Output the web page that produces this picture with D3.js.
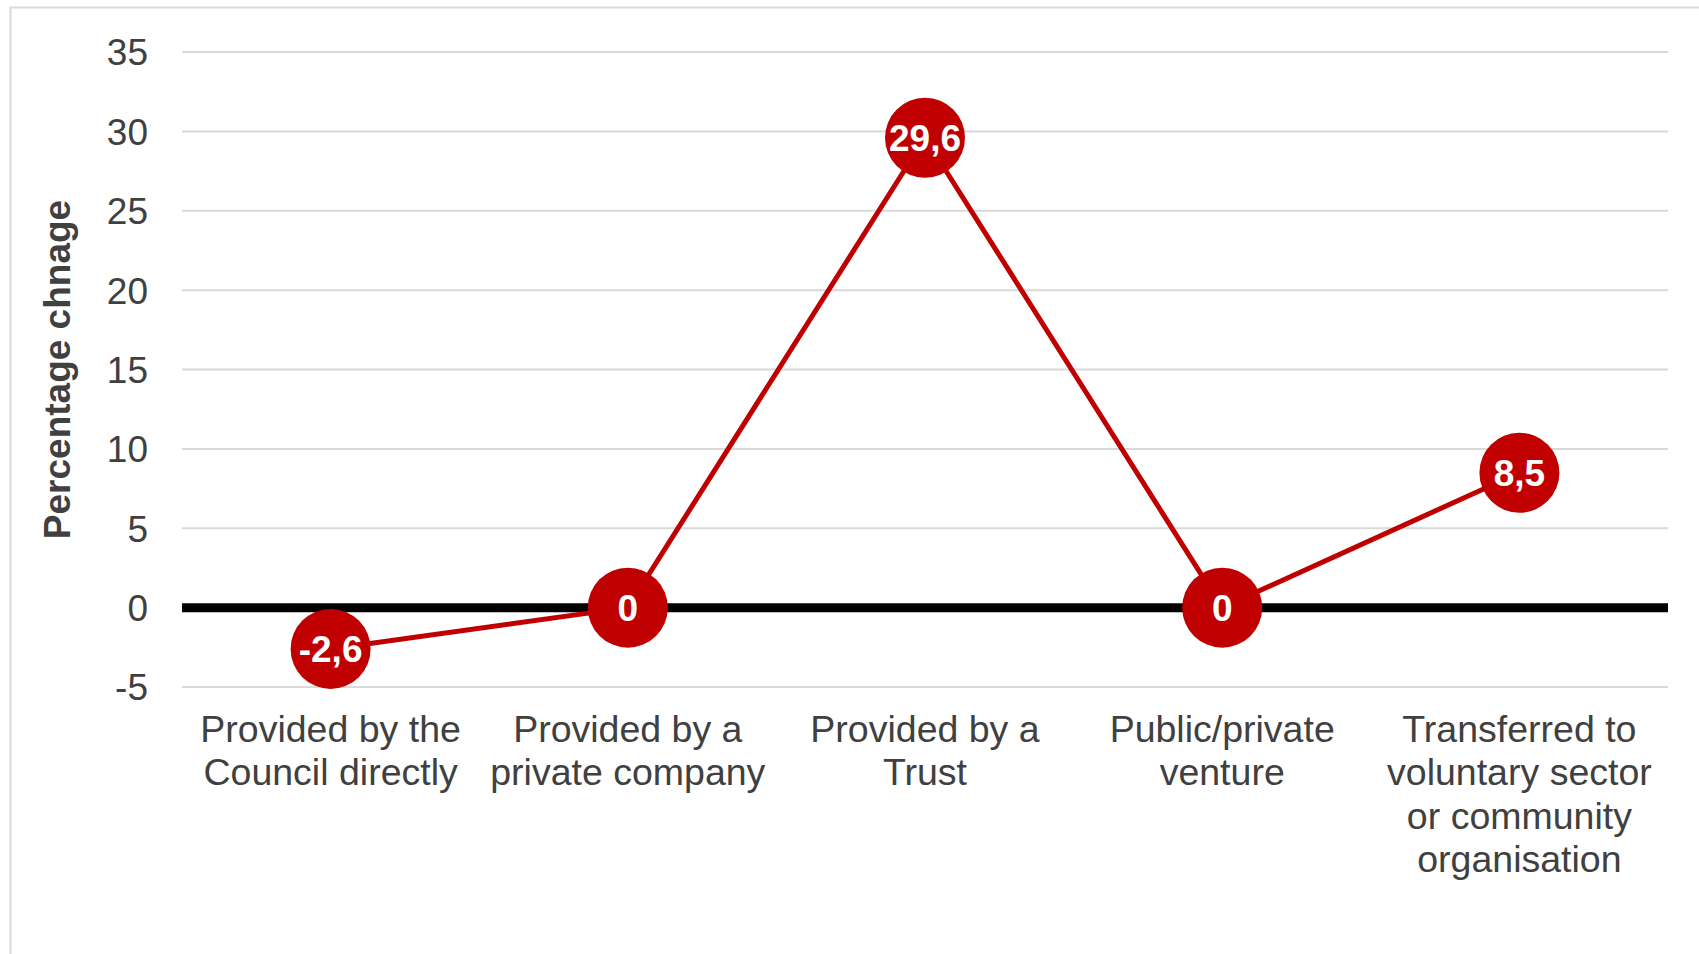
<!DOCTYPE html>
<html>
<head>
<meta charset="utf-8">
<script src="https://cdn.jsdelivr.net/npm/d3@7"></script>
<style>
  html, body { margin: 0; padding: 0; background: #fff; }
  svg { display: block; font-family: Arial, "Liberation Sans", sans-serif; }
</style>
</head>
<body>
<div id="chart"></div>
<script>
// chart data
var categories = [
    ["Provided by the", "Council directly"],
    ["Provided by a", "private company"],
    ["Provided by a", "Trust"],
    ["Public/private", "venture"],
    ["Transferred to", "voluntary sector", "or community", "organisation"]
];
var values = [-2.6, 0, 29.6, 0, 8.5];
var valueLabels = ["-2,6", "0", "29,6", "0", "8,5"];
var yTicks = [-5, 0, 5, 10, 15, 20, 25, 30, 35];
var yTitle = "Percentage chnage";

var width = 1699;
var height = 954;

var margin = {
    top: 52,
    bottom: 267,
    left: 182,
    right: 31
};

var red = "#c00000";
var textColour = "#404040";
var gridColour = "#d9d9d9";

var svg = d3.select("#chart")
    .append("svg")
    .attr("width", width)
    .attr("height", height);

// outer chart border (only top and left edges visible in frame)
svg.append("rect")
    .attr("x", 10.5)
    .attr("y", 7.5)
    .attr("width", width + 40)
    .attr("height", height + 40)
    .attr("fill", "none")
    .attr("stroke", gridColour)
    .attr("stroke-width", 2);

var innerW = width - margin.left - margin.right;
var innerH = height - margin.top - margin.bottom;

var g = svg.append("g")
    .attr("transform", "translate(" + margin.left + "," + margin.top + ")");

var x = d3.scaleBand()
    .domain(d3.range(categories.length))
    .range([0, innerW]);

var y = d3.scaleLinear()
    .domain([-5, 35])
    .range([innerH, 0]);

// gridlines
g.append("g")
    .attr("class", "grid")
    .selectAll("line")
    .data(yTicks.filter(function(d) { return d !== 0; }))
    .enter()
    .append("line")
    .attr("x1", 0)
    .attr("x2", innerW)
    .attr("y1", function(d) { return y(d); })
    .attr("y2", function(d) { return y(d); })
    .attr("stroke", gridColour)
    .attr("stroke-width", 2);

// y tick labels (plain hyphen for negatives)
var yAxis = d3.axisLeft(y)
    .tickValues(yTicks)
    .tickFormat(function(d) { return String(d); })
    .tickSize(0)
    .tickPadding(34);

g.append("g")
    .attr("class", "y-axis")
    .call(yAxis)
    .call(function(sel) {
        sel.select(".domain").remove();
        sel.selectAll("text")
            .attr("font-size", "37px")
            .attr("font-family", "Arial, 'Liberation Sans', sans-serif")
            .attr("fill", textColour)
            .attr("dy", "0.35em");
    });

// zero line
g.append("line")
    .attr("x1", 0)
    .attr("x2", innerW)
    .attr("y1", y(0))
    .attr("y2", y(0))
    .attr("stroke", "#000")
    .attr("stroke-width", 9);

// y title
svg.append("text")
    .attr("transform", "translate(" + 70 + "," + (margin.top + innerH / 2) + ") rotate(-90)")
    .attr("text-anchor", "middle")
    .attr("font-size", "37px")
    .attr("font-weight", "bold")
    .attr("fill", textColour)
    .text(yTitle);

// category labels
var catText = g.append("g")
    .attr("class", "x-labels")
    .selectAll("text")
    .data(categories)
    .enter()
    .append("text")
    .attr("text-anchor", "middle")
    .attr("font-size", "37.5px")
    .attr("fill", textColour)
    .attr("transform", function(d, i) {
        return "translate(" + (x(i) + x.bandwidth() / 2) + "," + (innerH + 55) + ")";
    });

catText.selectAll("tspan")
    .data(function(d) { return d; })
    .enter()
    .append("tspan")
    .attr("x", 0)
    .attr("y", function(d, j) { return j * 43.3; })
    .text(function(d) { return d; });

// line
var line = d3.line()
    .x(function(d, i) { return x(i) + x.bandwidth() / 2; })
    .y(function(d) { return y(d); });

g.append("path")
    .datum(values)
    .attr("d", line)
    .attr("fill", "none")
    .attr("stroke", red)
    .attr("stroke-width", 5)
    .attr("stroke-linejoin", "round");

// markers + labels
var pts = g.append("g")
    .attr("class", "points")
    .selectAll("g")
    .data(values)
    .enter()
    .append("g")
    .attr("transform", function(d, i) {
        return "translate(" + (x(i) + x.bandwidth() / 2) + "," + y(d) + ")";
    });

pts.append("circle")
    .attr("r", 40)
    .attr("fill", red);

pts.append("text")
    .attr("text-anchor", "middle")
    .attr("dy", "0.36em")
    .attr("font-size", "37px")
    .attr("font-weight", "bold")
    .attr("fill", "#fff")
    .text(function(d, i) { return valueLabels[i]; });
</script>
</body>
</html>
